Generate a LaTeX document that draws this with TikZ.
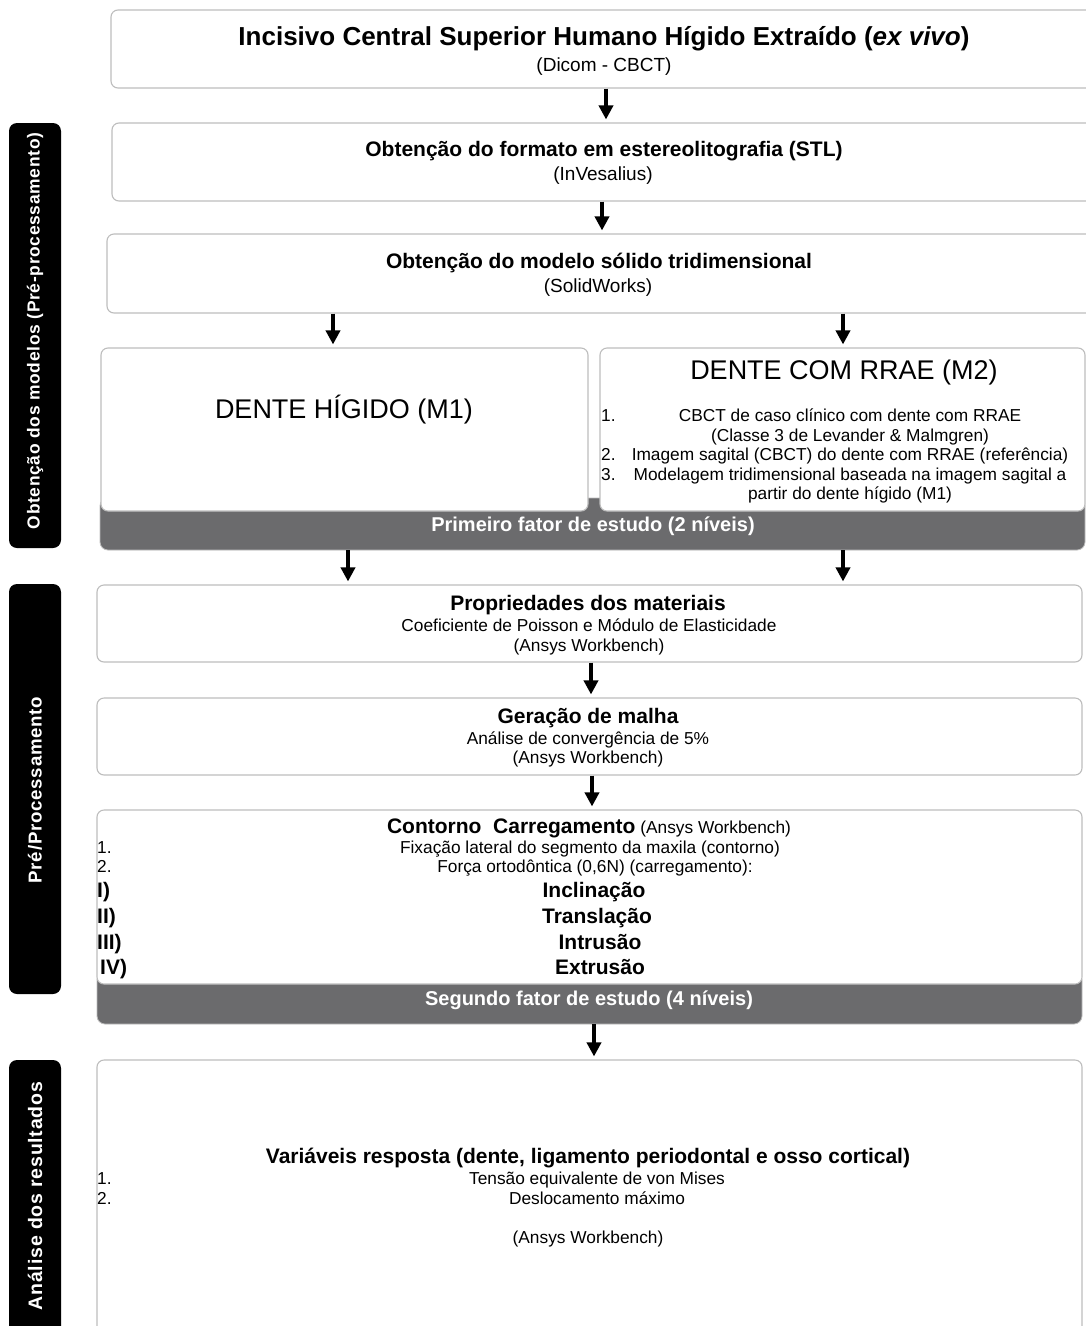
\documentclass[tikz,border=0pt]{standalone}
\usepackage{fontspec}
\setmainfont{Liberation Sans}
\newfontfamily\sidefont[LetterSpace=4]{Liberation Sans}
\usetikzlibrary{arrows.meta,fit,calc}
\definecolor{boxgray}{HTML}{BDBDBD}
\definecolor{bandgray}{HTML}{6B6B6D}
\begin{document}
\begin{tikzpicture}[x=1pt,y=-1pt,
  box/.style={draw=boxgray, line width=1.1pt, rounded corners=7pt, fill=white, inner sep=0pt},
  band/.style={draw=boxgray, line width=0.8pt, fill=bandgray, rounded corners=8pt, inner sep=0pt},
  sidebar/.style={fill=black, rounded corners=8pt, inner sep=0pt},
  sidetext/.style={text=white, rotate=90, inner sep=0pt},
  arr/.style={-{Triangle[width=14pt,length=14pt]}, line width=4.5pt, shorten >=3pt},
  ttl/.style={font=\fontsize{26}{30}\selectfont\bfseries, inner sep=0pt, text height=19.5pt, text depth=5.5pt},
  head/.style={font=\fontsize{21}{24}\selectfont\bfseries, inner sep=0pt, text height=16pt, text depth=4.5pt},
  big/.style={font=\fontsize{27}{30}\selectfont, inner sep=0pt, text height=20pt, text depth=5.5pt},
  sub/.style={font=\fontsize{19}{22}\selectfont, inner sep=0pt, text height=14.5pt, text depth=4pt},
  small/.style={font=\fontsize{17.3}{20}\selectfont, inner sep=0pt, text height=13pt, text depth=3.7pt},
  num/.style={small, anchor=west},
  mov/.style={font=\fontsize{21}{24}\selectfont\bfseries, inner sep=0pt, text height=16pt, text depth=4.5pt},
  bnum/.style={mov, anchor=west},
  bandtext/.style={text=white, font=\fontsize{20}{23}\selectfont\bfseries, inner sep=0pt, text height=15pt, text depth=4.3pt}
]
\useasboundingbox (0,0) rectangle (1086,1326);
\fill[white] (0,0) rectangle (1086,1326);

% side bars
\node[sidebar, fit={(9,123) (61,548)}] (sb1) {};
\node[sidetext, font=\sidefont\bfseries\fontsize{17.4}{20}\selectfont] (st1) at (35,331) {Obtenção dos modelos (Pré-processamento)};
\node[sidebar, fit={(9,584) (61,994)}] (sb2) {};
\node[sidetext, font=\sidefont\bfseries\fontsize{18.7}{21}\selectfont] (st2) at (35,790) {Pré/Processamento};
\node[sidebar, fit={(9,1060) (61,1345)}] (sb3) {};
\node[sidetext, font=\sidefont\bfseries\fontsize{19.5}{22}\selectfont] (st3) at (35,1196) {Análise dos resultados};

% box 1
\node[box, fit={(111,10) (1095,88)}] (b1) {};
\node[ttl] (t1) at (604,38) {Incisivo Central Superior Humano Hígido Extraído (\textit{ex vivo})};
\node[sub] (s1) at (604,66) {(Dicom - CBCT)};

% box 2
\node[box, fit={(112,123) (1095,201)}] (b2) {};
\node[head] (t2) at (604,151) {Obtenção do formato em estereolitografia (STL)};
\node[sub] (s2) at (603,175) {(InVesalius)};

% box 3
\node[box, fit={(107,234) (1095,313)}] (b3) {};
\node[head] (t3) at (599,263) {Obtenção do modelo sólido tridimensional};
\node[sub] (s3) at (598,287) {(SolidWorks)};

% band 1 and model boxes
\node[band, fit={(100,498) (1085,550)}] (band1) {};
\node[bandtext] (bt1) at (593,526) {Primeiro fator de estudo (2 níveis)};
\node[box, fit={(101,348) (588,511)}] (m1) {};
\node[big] (m1t) at (344,411) {DENTE HÍGIDO (M1)};
\node[box, fit={(600,348) (1085,511)}] (m2) {};
\node[big] (m2t) at (844,372) {DENTE COM RRAE (M2)};
\node[num] (n21) at (601,417) {1.};
\node[small] (i21) at (850,417) {CBCT de caso clínico com dente com RRAE};
\node[small] (i21b) at (850,437) {(Classe 3 de Levander \& Malmgren)};
\node[num] (n22) at (601,456) {2.};
\node[small] (i22) at (850,456) {Imagem sagital (CBCT) do dente com RRAE (referência)};
\node[num] (n23) at (601,476) {3.};
\node[small] (i23) at (850,476) {Modelagem tridimensional baseada na imagem sagital a};
\node[small] (i23b) at (850,495) {partir do dente hígido (M1)};

% propriedades
\node[box, fit={(97,585) (1082,662)}] (p) {};
\node[head] (pt) at (588,605) {Propriedades dos materiais};
\node[small] (ps1) at (589,627) {Coeficiente de Poisson e Módulo de Elasticidade};
\node[small] (ps2) at (589,647) {(Ansys Workbench)};

% malha
\node[box, fit={(97,698) (1082,775)}] (g) {};
\node[head] (gt) at (588,718) {Geração de malha};
\node[small] (gs1) at (588,740) {Análise de convergência de 5\%};
\node[small] (gs2) at (588,759) {(Ansys Workbench)};

% contorno + band 2
\node[band, fit={(97,972) (1082,1024)}] (band2) {};
\node[bandtext] (bt2) at (589,1000) {Segundo fator de estudo (4 níveis)};
\node[box, fit={(97,810) (1082,984)}] (c) {};
\node[inner sep=0pt, text height=16pt, text depth=4.5pt] (ct) at (589,828) {\fontsize{21}{24}\selectfont\bfseries Contorno\ \ Carregamento\fontsize{17.3}{20}\selectfont\mdseries\ (Ansys Workbench)};
\node[num] (cn1) at (97,849) {1.};
\node[small] (ci1) at (590,849) {Fixação lateral do segmento da maxila (contorno)};
\node[num] (cn2) at (97,868) {2.};
\node[small] (ci2) at (595,868) {Força ortodôntica (0,6N) (carregamento):};
\node[bnum] (r1) at (97,892) {I)};
\node[mov] (mv1) at (594,892) {Inclinação};
\node[bnum] (r2) at (97,918) {II)};
\node[mov] (mv2) at (597,918) {Translação};
\node[bnum] (r3) at (97,944) {III)};
\node[mov] (mv3) at (600,944) {Intrusão};
\node[bnum] (r4) at (100,969) {IV)};
\node[mov] (mv4) at (600,969) {Extrusão};

% variaveis
\node[box, fit={(97,1060) (1082,1345)}] (v) {};
\node[head] (vt) at (588,1158) {Variáveis resposta (dente, ligamento periodontal e osso cortical)};
\node[num] (vn1) at (97,1180) {1.};
\node[small] (vi1) at (597,1180) {Tensão equivalente de von Mises};
\node[num] (vn2) at (97,1200) {2.};
\node[small] (vi2) at (597,1200) {Deslocamento máximo};
\node[small] (vs) at (588,1239) {(Ansys Workbench)};

% arrow x positions
\coordinate (x1) at (606,0);
\coordinate (x2) at (602,0);
\coordinate (x3a) at (333,0);
\coordinate (x3b) at (843,0);
\coordinate (x4a) at (348,0);
\coordinate (x4b) at (843,0);
\coordinate (x5) at (591,0);
\coordinate (x6) at (592,0);
\coordinate (x7) at (594,0);

\draw[arr] (x1 |- b1.south) -- (x1 |- b2.north);
\draw[arr] (x2 |- b2.south) -- (x2 |- b3.north);
\draw[arr] (x3a |- b3.south) -- (x3a |- m1.north);
\draw[arr] (x3b |- b3.south) -- (x3b |- m2.north);
\draw[arr] (x4a |- band1.south) -- (x4a |- p.north);
\draw[arr] (x4b |- band1.south) -- (x4b |- p.north);
\draw[arr] (x5 |- p.south) -- (x5 |- g.north);
\draw[arr] (x6 |- g.south) -- (x6 |- c.north);
\draw[arr] (x7 |- band2.south) -- (x7 |- v.north);
\end{tikzpicture}
\end{document}
